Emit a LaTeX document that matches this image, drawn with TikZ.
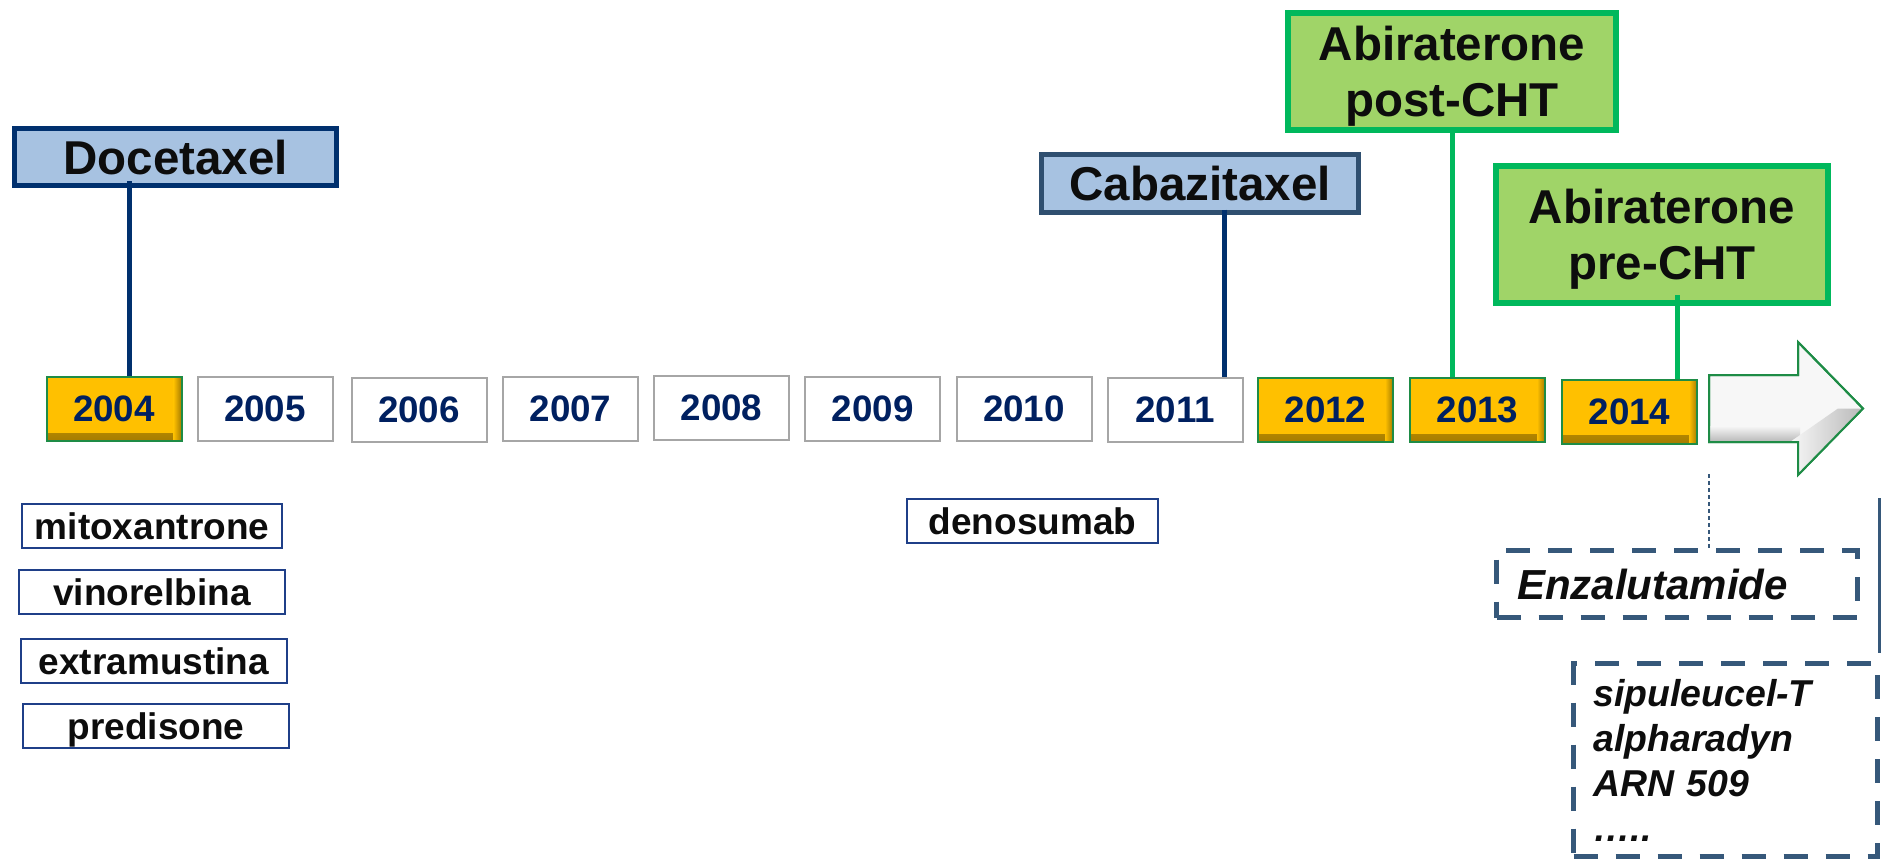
\documentclass[tikz,border=0pt]{standalone}
\usepackage{fontspec}
\setmainfont{Liberation Sans}
\definecolor{lblue}{HTML}{A7C2E1}
\definecolor{docborder}{HTML}{00306E}
\definecolor{cabborder}{HTML}{2F4F70}
\definecolor{lgreen}{HTML}{A0D468}
\definecolor{gborder}{HTML}{00B85C}
\definecolor{ynavy}{HTML}{002060}
\definecolor{ygray}{HTML}{A6A6A6}
\definecolor{yorange}{HTML}{FFC000}
\definecolor{yshadow}{HTML}{A57C00}
\definecolor{ygreen}{HTML}{1E8C46}
\definecolor{dnavy}{HTML}{1F3F88}
\definecolor{dblue}{HTML}{36587A}
\definecolor{lnavy}{HTML}{00306E}
\begin{document}
\begin{tikzpicture}[x=0.5pt,y=-0.5pt,
  bigbox/.style={draw, line width=2.5pt, inner sep=0pt, text depth=0pt,
    font=\fontsize{23.75}{28}\selectfont\bfseries, text=black!95, align=center},
  bluebox/.style={bigbox, fill=lblue},
  greenbox/.style={bigbox, fill=lgreen, draw=gborder, line width=3pt},
  yearbox/.style={draw=ygray, line width=1pt, minimum width=67.5pt, minimum height=32pt,
    inner sep=0pt, text depth=0pt, font=\fontsize{18.4}{20}\selectfont\bfseries, text=ynavy},
  orangeyear/.style={yearbox, fill=yorange, draw=ygreen,
    path picture={
      \shade[top color=yorange, bottom color=yshadow]
        ([yshift=4pt]path picture bounding box.south west) rectangle (path picture bounding box.south east);
      \shade[left color=yorange, right color=yshadow]
        ([xshift=-4pt]path picture bounding box.north east) rectangle (path picture bounding box.south east);
    }},
  drugbox/.style={draw=dnavy, line width=1pt, minimum height=22pt, inner sep=0pt, text depth=0pt,
    font=\fontsize{18.5}{20}\selectfont\bfseries, text=black!95},
  dashbox/.style={draw=dblue, line width=2.3pt, dash pattern=on 12pt off 9pt, inner ysep=0pt,
    align=left, text=black!95},
  navyline/.style={draw=lnavy, line width=2.5pt},
  greenline/.style={draw=gborder, line width=2.5pt},
  dotline/.style={draw=dblue, line width=0.8pt, dash pattern=on 2pt off 1.5pt},
  arrowst/.style={draw=ygreen, line width=1pt, fill=gray!6}
]
\useasboundingbox (0,0) rectangle (1881,862);

% top labels
\node[bluebox, draw=docborder, minimum width=161pt, minimum height=28.5pt] (doc) at (175.5,157) {Docetaxel};
\node[bluebox, draw=cabborder, minimum width=158.5pt, minimum height=29pt] (cab) at (1200,183.5) {Cabazitaxel};
\node[greenbox, minimum width=164pt, minimum height=58.5pt] (post) at (1452,71.5) {Abiraterone\\post-CHT};
\node[greenbox, minimum width=166pt, minimum height=68.5pt] (pre) at (1662,234.5) {Abiraterone\\pre-CHT};

% years
\node[orangeyear] (y2004) at (114,409) {2004};
\node[yearbox] (y2005) at (265,408.5) {2005};
\node[yearbox] (y2006) at (419,410) {2006};
\node[yearbox] (y2007) at (570.5,409) {2007};
\node[yearbox] (y2008) at (721.5,408) {2008};
\node[yearbox] (y2009) at (872.6,409) {2009};
\node[yearbox] (y2010) at (1024,409) {2010};
\node[yearbox] (y2011) at (1175,409.5) {2011};
\node[orangeyear] (y2012) at (1325.5,410) {2012};
\node[orangeyear] (y2013) at (1477.5,410) {2013};
\node[orangeyear] (y2014) at (1629.5,411.5) {2014};

% arrow
\path[arrowst] (1709,375) -- (1798,375) -- (1798,342) -- (1863,408.5) -- (1798,475) -- (1798,442) -- (1709,442) -- cycle;
\begin{scope}
  \clip (1709,375) -- (1798,375) -- (1798,342) -- (1863,408.5) -- (1798,475) -- (1798,442) -- (1709,442) -- cycle;
  \shade[top color=gray!6, bottom color=gray!60] (1709,426) rectangle (1800,443);
  \shade[left color=gray!6, right color=gray!55] (1790,442) -- (1838,408.5) -- (1863,408.5) -- (1798,476) -- (1790,476) -- cycle;
\end{scope}
\draw[draw=ygreen, line width=1pt] (1709,375) -- (1798,375) -- (1798,342) -- (1863,408.5) -- (1798,475) -- (1798,442) -- (1709,442) -- cycle;

% drugs
\node[drugbox, minimum width=130pt] (mito) at (152,526) {mitoxantrone};
\node[drugbox, minimum width=133pt] (vino) at (152,592) {vinorelbina};
\node[drugbox, minimum width=133pt] (extra) at (154,661) {extramustina};
\node[drugbox, minimum width=133pt] (pred) at (156,726) {predisone};
\node[drugbox, minimum width=125.5pt] (deno) at (1032.5,521) {denosumab};

\node[dashbox, minimum height=33.5pt, text width=160pt, inner xsep=10.25pt, text depth=0pt,
  font=\fontsize{21}{24}\selectfont\bfseries\itshape] (enz) at (1677,584) {Enzalutamide};
\node[dashbox, minimum height=96.5pt, text width=132pt, inner xsep=10pt,
  font=\fontsize{18.7}{22.5}\selectfont\bfseries\itshape] (others) at (1725.5,760)
  {sipuleucel-T\\alpharadyn\\ARN 509\\…..};

% right edge fragment
\draw[draw=dblue, line width=1.5pt] (1879,498) -- (1879,653);

% connectors
\coordinate (docx) at (129,0);
\coordinate (cabx) at (1224,0);
\coordinate (postx) at (1452,0);
\coordinate (prex) at (1677,0);
\coordinate (dotend) at (1709,474);
\draw[navyline, shorten <=-3.5pt] (doc.south -| docx) -- (y2004.north -| docx);
\draw[navyline, shorten <=-2.75pt] (cab.south -| cabx) -- (y2011.north -| cabx);
\draw[greenline] (post.south -| postx) -- (y2013.north -| postx);
\draw[greenline, shorten <=-5.5pt] (pre.south -| prex) -- (y2014.north -| prex);
\draw[dotline] (dotend) -- (enz.north -| dotend);
\end{tikzpicture}
\end{document}
